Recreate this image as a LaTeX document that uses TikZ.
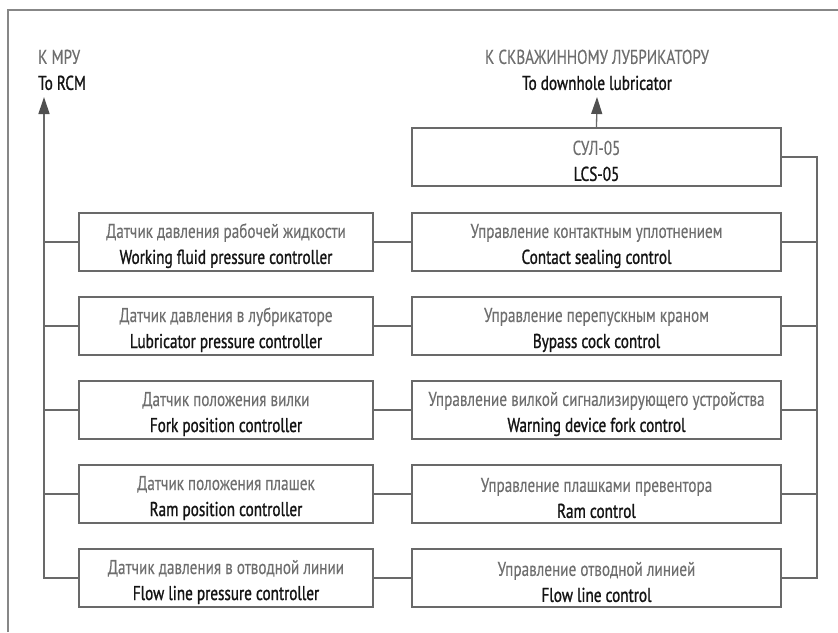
\documentclass[tikz,border=0pt]{standalone}
\usepackage{fontspec}
\setmainfont[FakeStretch=0.76,FakeBold=0.3]{PT Sans}
\newfontfamily\enfont[FakeStretch=0.76,FakeBold=1.1]{PT Sans}
\usetikzlibrary{arrows.meta}
\usetikzlibrary{calc}

\definecolor{framegray}{RGB}{135,135,135}
\definecolor{linegray}{RGB}{105,105,105}
\definecolor{tipgray}{RGB}{80,80,80}
\definecolor{rutext}{RGB}{110,110,110}
\definecolor{entext}{RGB}{20,20,20}

\newcommand{\bilabel}[2]{\rule{0pt}{22pt}{\color{rutext}#1}\\{\color{entext}\enfont #2}}

\tikzset{
    txt/.style={inner sep=0pt, font=\fontsize{20}{26}\selectfont},
    block/.style={txt, draw=linegray, line width=1.3pt, minimum height=58pt, align=center},
    sensor/.style={block, minimum width=294pt},
    control/.style={block, minimum width=369pt},
    wire/.style={draw=linegray, line width=1.3pt},
    toarrow/.style={wire, -{Triangle[length=17pt,width=11pt,color=tipgray]}}
}

\begin{document}
\begin{tikzpicture}[x=1pt,y=-1pt]
    \useasboundingbox (0,0) rectangle (838,632);
    \draw[framegray, line width=1.5pt] (8,632) -- (8,10) -- (838,10);

    \node[txt, anchor=west, align=left] (rcmlabel) at (38,66) {\bilabel{К МРУ}{To RCM}};
    \node[txt, align=center] (lublabel) at (597,66) {\bilabel{К СКВАЖИННОМУ ЛУБРИКАТОРУ}{To downhole lubricator}};

    \coordinate (rcm) at (44,97);
    \coordinate (lub) at (597,97);
    \coordinate (rbus) at (817,157);

    \node[control] (lcs) at (596.5,157) {\bilabel{СУЛ-05}{LCS-05}};

    \node[sensor] (s1) at (226,242) {\bilabel{Датчик давления рабочей жидкости}{Working fluid pressure controller}};
    \node[sensor] (s2) at (226,326) {\bilabel{Датчик давления в лубрикаторе}{Lubricator pressure controller}};
    \node[sensor] (s3) at (226,410) {\bilabel{Датчик положения вилки}{Fork position controller}};
    \node[sensor] (s4) at (226,494) {\bilabel{Датчик положения плашек}{Ram position controller}};
    \node[sensor] (s5) at (226,578) {\bilabel{Датчик давления в отводной линии}{Flow line pressure controller}};

    \node[control] (c1) at (596.5,242) {\bilabel{Управление контактным уплотнением}{Contact sealing control}};
    \node[control] (c2) at (596.5,326) {\bilabel{Управление перепускным краном}{Bypass cock control}};
    \node[control] (c3) at (596.5,410) {\bilabel{Управление вилкой сигнализирующего устройства}{Warning device fork control}};
    \node[control] (c4) at (596.5,494) {\bilabel{Управление плашками превентора}{Ram control}};
    \node[control] (c5) at (596.5,578) {\bilabel{Управление отводной линией}{Flow line control}};

    \draw[toarrow] (s5.west) -| (rcm);
    \draw[wire] (s1.west) -- (s1.west -| rcm);
    \draw[wire] (s2.west) -- (s2.west -| rcm);
    \draw[wire] (s3.west) -- (s3.west -| rcm);
    \draw[wire] (s4.west) -- (s4.west -| rcm);

    \draw[toarrow] (lcs.north) -- (lub);

    \draw[wire] (s1) -- (c1);
    \draw[wire] (s2) -- (c2);
    \draw[wire] (s3) -- (c3);
    \draw[wire] (s4) -- (c4);
    \draw[wire] (s5) -- (c5);

    \draw[wire] (lcs.east) -- (rbus) |- (c5.east);
    \draw[wire] (c1.east) -- (c1.east -| rbus);
    \draw[wire] (c2.east) -- (c2.east -| rbus);
    \draw[wire] (c3.east) -- (c3.east -| rbus);
    \draw[wire] (c4.east) -- (c4.east -| rbus);
\end{tikzpicture}
\end{document}
